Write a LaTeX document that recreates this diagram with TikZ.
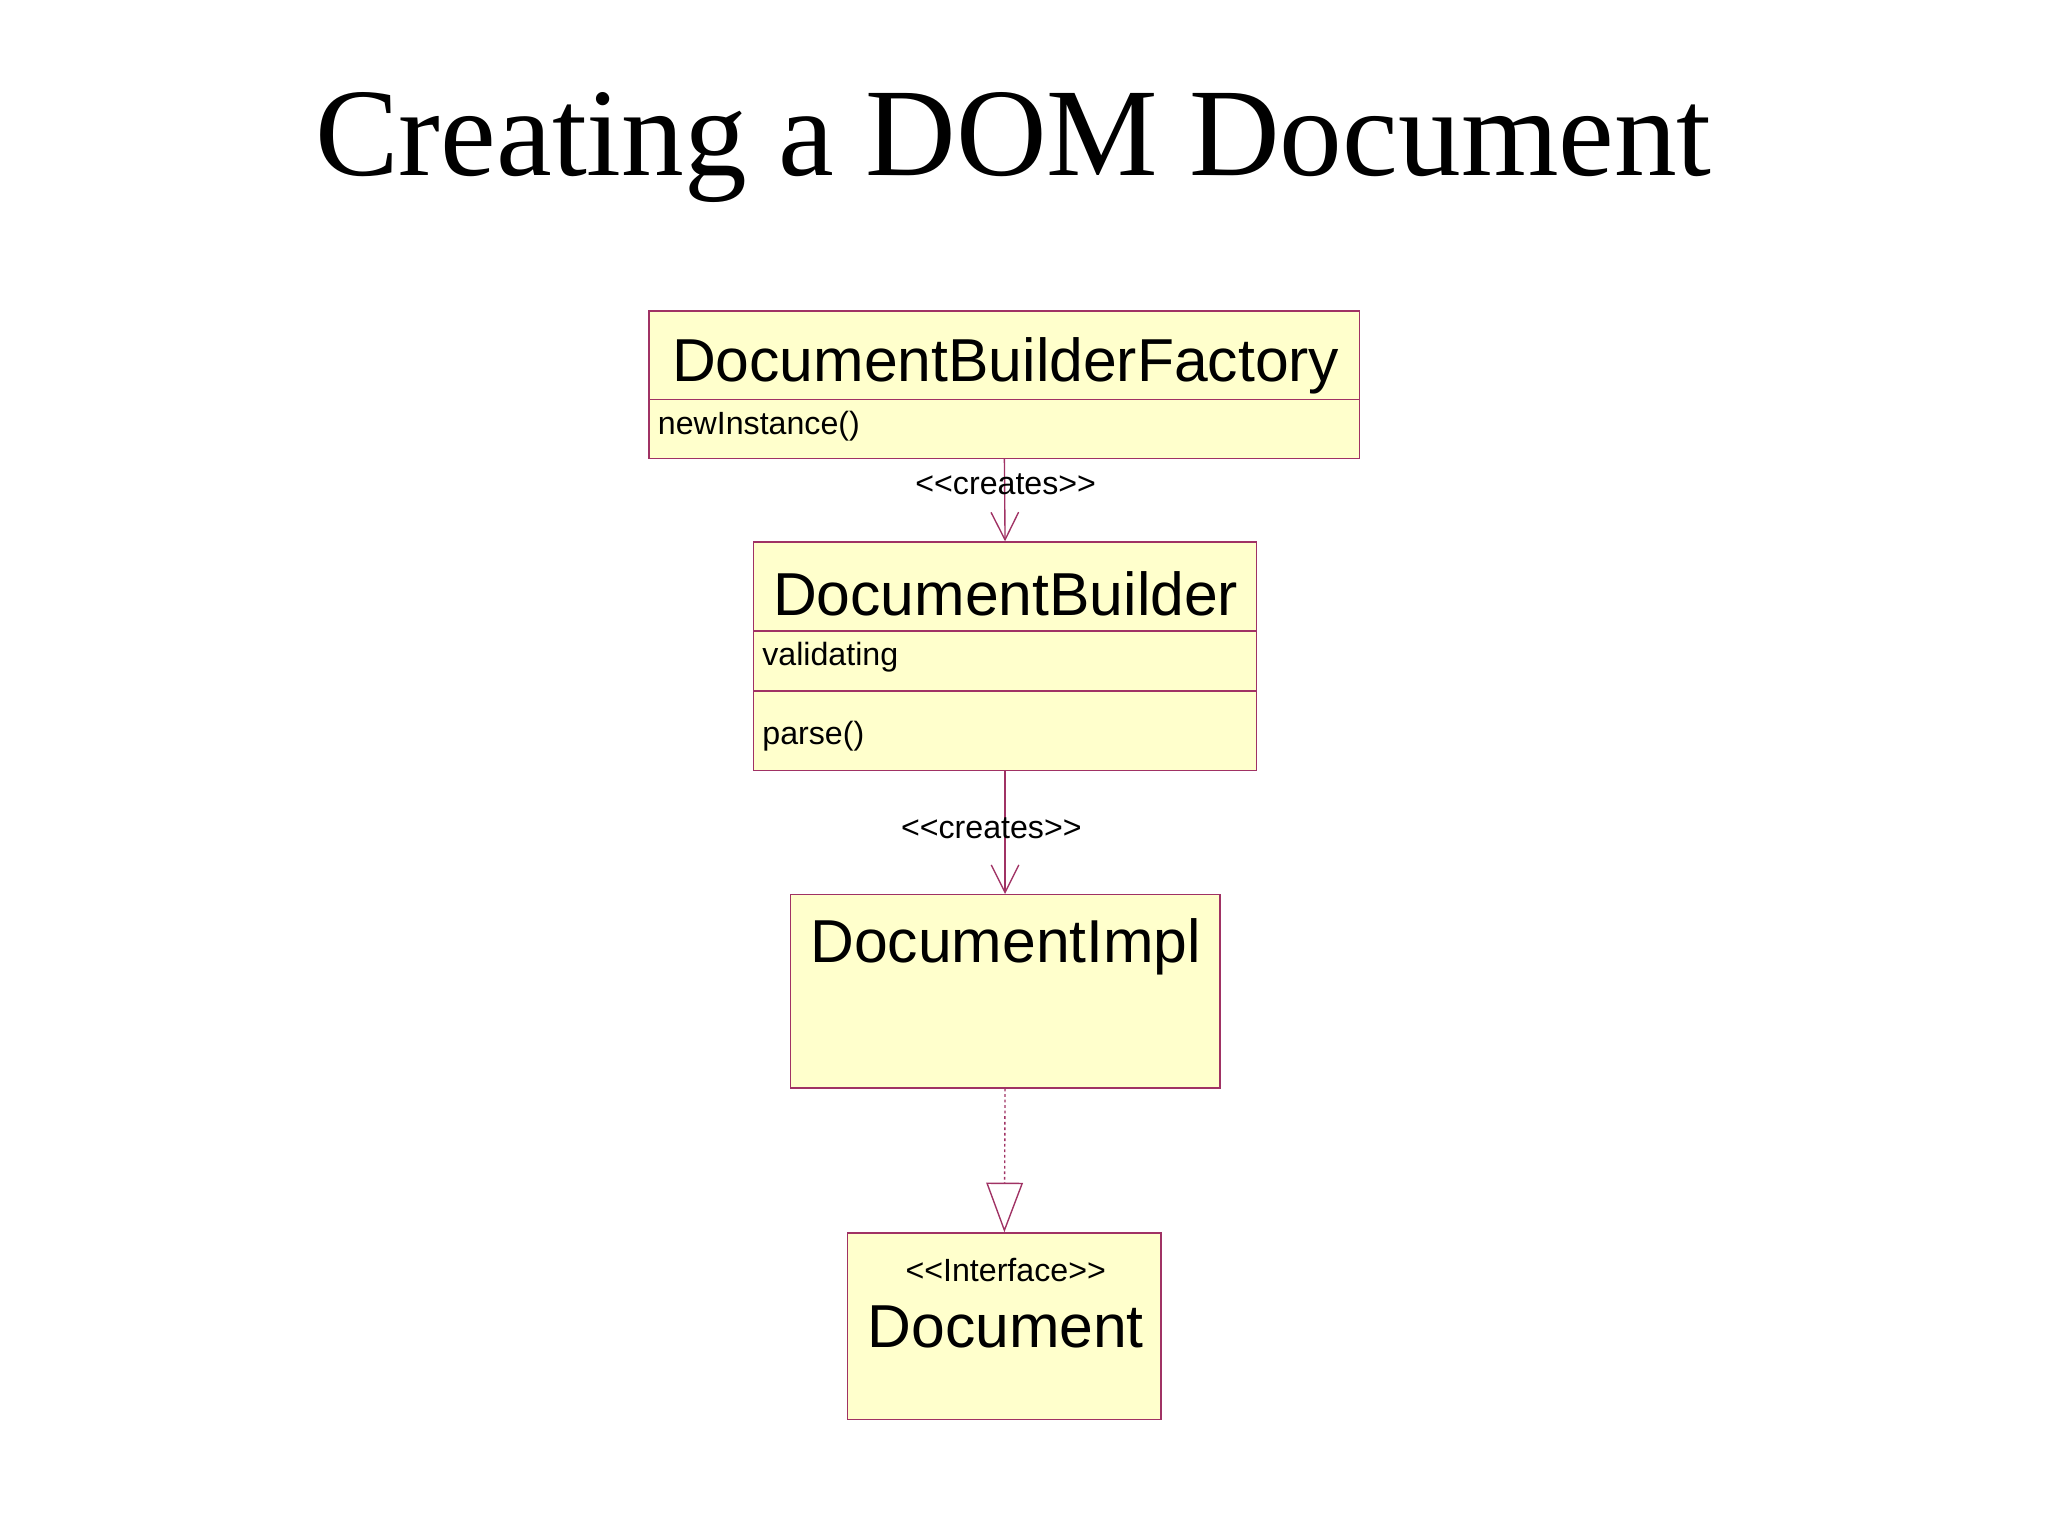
\documentclass[tikz,border=0pt]{standalone}
\usepackage{fontspec}
\setmainfont{Liberation Serif}
\setsansfont{Liberation Sans}
\usetikzlibrary{arrows.meta}
\definecolor{boxfill}{RGB}{255,255,204}
\definecolor{boxline}{RGB}{160,50,100}
\tikzset{
  cls/.style={draw=boxline, fill=boxfill, line width=0.3pt, inner sep=0pt, rectangle},
  big/.style={font=\sffamily\fontsize{13.2}{15}\selectfont, inner sep=0pt},
  small/.style={font=\sffamily\fontsize{7}{8}\selectfont, inner sep=0pt},
  conn/.style={draw=boxline, line width=0.3pt},
  barb/.style={-{Straight Barb[length=6pt,width=6pt,line width=0.3pt]}},
  realize/.style={dash pattern=on 0.6pt off 0.6pt, -{Triangle[open,length=10.8pt,width=8pt,fill=white]}}
}
\begin{document}
\begin{tikzpicture}[x=0.01cm,y=-0.01cm]
\useasboundingbox (0,0) rectangle (1568,1176);
\node[font=\fontsize{27.3}{31}\selectfont, inner sep=0pt] (title) at (776,113) {Creating a DOM Document};
% box 1
\node[cls, minimum width=544*0.01cm, minimum height=113*0.01cm] (f) at (769,294.5) {};
\draw[boxline, line width=0.3pt] (497,306) -- (1041,306);
\node[big] (ft) at (770,280) {DocumentBuilderFactory};
\node[small, anchor=west] (fm) at (503,326) {newInstance()};
% box 2
\node[cls, minimum width=385*0.01cm, minimum height=175*0.01cm] (b) at (769.5,502.5) {};
\draw[boxline, line width=0.3pt] (577,483) -- (962,483);
\draw[boxline, line width=0.3pt] (577,529) -- (962,529);
\node[big] (bt) at (770,455) {DocumentBuilder};
\node[small, anchor=west] (ba) at (583,503) {validating};
\node[small, anchor=west] (bm) at (583,564) {parse()};
% box 3
\node[cls, minimum width=329*0.01cm, minimum height=148*0.01cm] (i) at (769.5,759) {};
\node[big] (it) at (770,725) {DocumentImpl};
% box 4
\node[cls, minimum width=240*0.01cm, minimum height=143*0.01cm] (d) at (769,1015.5) {};
\node[small] (ds) at (770,972) {<{}<Interface>{}>};
\node[big] (dt) at (770,1016) {Document};
% connectors
\draw[conn, barb] (f.south) -- (b.north);
\node[small] (l1) at (770,371) {<{}<creates>{}>};
\draw[conn, barb] (b.south) -- (i.north);
\node[small] (l2) at (759,634) {<{}<creates>{}>};
\draw[conn, realize] (i.south) -- (d.north);
\end{tikzpicture}
\end{document}
